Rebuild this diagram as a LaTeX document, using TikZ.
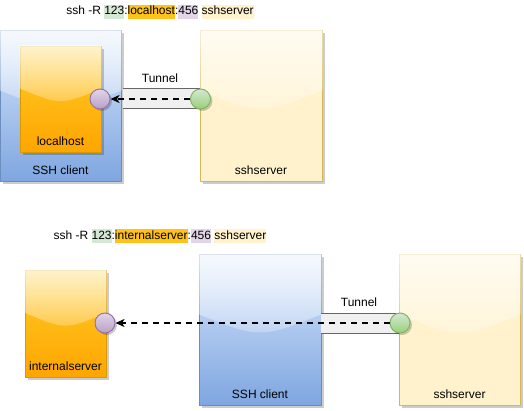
\documentclass[tikz,border=0pt]{standalone}
\usepackage{fontspec}
\setmainfont{Liberation Sans}
\usetikzlibrary{positioning,arrows.meta,shadows,fadings,calc}

\definecolor{blueTop}{HTML}{DAE8FC}
\definecolor{blueBot}{HTML}{7EA6E0}
\definecolor{blueLine}{HTML}{6C8EBF}
\definecolor{orgTop}{HTML}{FFCD28}
\definecolor{orgBot}{HTML}{FFA500}
\definecolor{orgLine}{HTML}{D79B00}
\definecolor{orgMark}{HTML}{FFC21A}
\definecolor{ylwFill}{HTML}{FFF2CC}
\definecolor{ylwLine}{HTML}{D6B656}
\definecolor{purTop}{HTML}{E1D5E7}
\definecolor{purBot}{HTML}{B7A0C6}
\definecolor{purLine}{HTML}{9673A6}
\definecolor{grnTop}{HTML}{D5E8D4}
\definecolor{grnBot}{HTML}{97D077}
\definecolor{grnLine}{HTML}{82B366}
\definecolor{tunFill}{HTML}{F0F0F0}
\definecolor{tunLine}{HTML}{666666}

\tikzfading[name=glassfade, top color=transparent!10, bottom color=transparent!75]
\newcommand{\hlbox}[2]{{\setlength{\fboxsep}{0pt}\colorbox{#1}{\strut#2}}}

\begin{document}
\begin{tikzpicture}[x=1pt, y=-1pt, line join=round, >={Stealth[length=9pt, width=8pt, inset=2.5pt]},
	font=\fontsize{12}{14}\selectfont,
	box/.style={rectangle, inner sep=0pt, line width=1pt,
		drop shadow={shadow xshift=3pt, shadow yshift=-3pt, fill=black, opacity=0.2}},
	client/.style={box, draw=blueLine, top color=blueTop, bottom color=blueBot},
	lhost/.style={box, draw=orgLine, top color=orgTop, bottom color=orgBot},
	server/.style={box, draw=ylwLine, fill=ylwFill},
	port/.style={circle, inner sep=0pt, minimum size=20pt, line width=1pt,
		drop shadow={shadow xshift=2pt, shadow yshift=-2pt, fill=black, opacity=0.2}},
	inport/.style={port, draw=purLine, top color=purTop, bottom color=purBot},
	outport/.style={port, draw=grnLine, top color=grnTop, bottom color=grnBot},
	band/.style={rectangle, inner sep=0pt, fill=tunFill, minimum height=20pt},
	lbl/.style={anchor=base, inner sep=0pt},
	flow/.style={->, dash pattern=on 6pt off 5pt, line width=2pt}]
	
	\useasboundingbox (0,0) rectangle (524,410);
	
	% glass shine on the upper part of a box
	\def\glass#1{\fill[white, path fading=glassfade, fill opacity=0.85]
		let \p1=(#1.north west), \p2=(#1.south east) in
		(\p1) -- (\x1,{\y1+0.4*(\y2-\y1)})
		.. controls ({0.5*(\x1+\x2)},{\y1+0.56*(\y2-\y1)}) .. (\x2,{\y1+0.4*(\y2-\y1)})
		-- (\x2,\y1) -- cycle;}
	
	% ---- ssh -R 123:localhost:456 sshserver
	\node[lbl] (cmdA) at (160,14.5) {ssh -R \hlbox{grnTop}{123}:\hlbox{orgMark}{localhost}:\hlbox{purTop}{456} \hlbox{ylwFill}{sshserver}};
	
	\node[client, minimum width=121pt, minimum height=151pt] (cliA) at (60.5,105.5) {};
	\glass{cliA}
	\node[lhost, minimum width=81pt, minimum height=106pt] (locA) at (60.5,99) {};
	\glass{locA}
	\node[server, minimum width=122pt, minimum height=151pt] (srvA) at (261,105.5) {};
	\glass{srvA}
	
	\node[band, minimum width=77pt] (tunA) at (161.5,98) {};
	\draw[tunLine] (tunA.north west) -- (tunA.north east) (tunA.south west) -- (tunA.south east);
	\node[lbl] (tunAlbl) at (160,82) {Tunnel};
	
	\node[inport] (inA) at (100,99) {};
	\node[outport] (outA) at (200.5,99) {};
	\draw[flow] (outA) -- (inA);
	
	\node[lbl] (locAlbl) at (60.5,145) {localhost};
	\node[lbl] (cliAlbl) at (60.5,174) {SSH client};
	\node[lbl] (srvAlbl) at (261,174) {sshserver};
	
	% ---- ssh -R 123:internalserver:456 sshserver
	\node[lbl] (cmdB) at (160,239) {ssh -R \hlbox{grnTop}{123}:\hlbox{orgMark}{internalserver}:\hlbox{purTop}{456} \hlbox{ylwFill}{sshserver}};
	
	\node[lhost, minimum width=81pt, minimum height=107pt] (intB) at (65.5,323.5) {};
	\glass{intB}
	\node[client, minimum width=122pt, minimum height=151pt] (cliB) at (260,329.5) {};
	\glass{cliB}
	\node[server, minimum width=121pt, minimum height=151pt] (srvB) at (459.5,329.5) {};
	\glass{srvB}
	
	\node[band, minimum width=78pt] (tunB) at (360,323) {};
	\draw[tunLine] (tunB.north west) -- (tunB.north east) (tunB.south west) -- (tunB.south east);
	\node[lbl] (tunBlbl) at (359,306) {Tunnel};
	
	\node[inport] (inB) at (105,323) {};
	\node[outport] (outB) at (400,323) {};
	\draw[flow] (outB) -- (inB);
	
	\node[lbl] (intBlbl) at (65.5,370) {internalserver};
	\node[lbl] (cliBlbl) at (260,398) {SSH client};
	\node[lbl] (srvBlbl) at (459.5,398) {sshserver};
	
\end{tikzpicture}
\end{document}
